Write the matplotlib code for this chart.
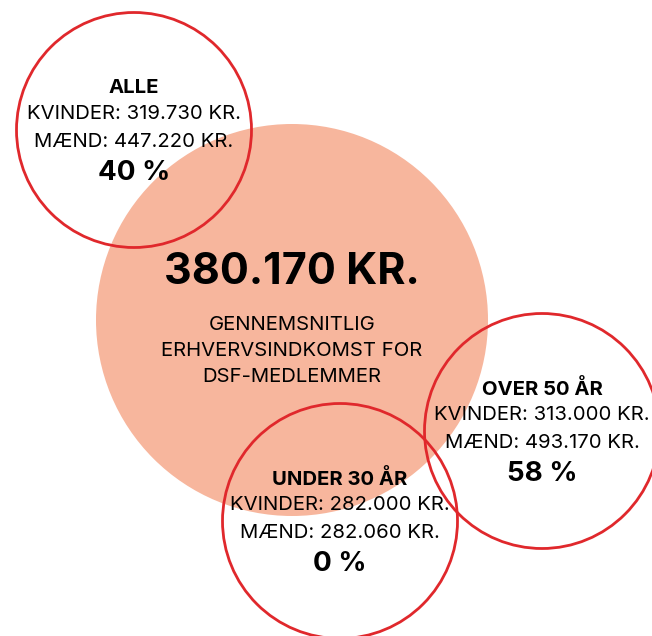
import matplotlib.pyplot as plt
from matplotlib.patches import Circle

# data
groups = ["ALLE", "OVER 50 ÅR", "UNDER 30 ÅR"]
kvinder = ["319.730", "313.000", "282.000"]
maend = ["447.220", "493.170", "282.060"]
gap_pct = [40, 58, 0]
avg_income = "380.170"
avg_label = ["GENNEMSNITLIG", "ERHVERVSINDKOMST FOR", "DSF-MEDLEMMER"]

# layout in pixel coords
centers = [(134, 130), (542, 431), (340, 521)]
radius = 117.5
big_center = (292, 320)
big_radius = 196

plt.rcParams['font.family'] = ['Inter', 'DejaVu Sans']

fig = plt.figure(figsize=(6.52, 6.36), dpi=100)
ax = fig.add_axes([0, 0, 1, 1])
ax.set_xlim(0, 652)
ax.set_ylim(636, 0)
ax.set_aspect('equal')
ax.axis('off')

ax.add_patch(Circle(big_center, big_radius, color='#f7b69d', zorder=1, lw=0))
for c in centers:
    ax.add_patch(Circle(c, radius, fill=False, ec='#e0282c', lw=2, zorder=2))

bx, by = big_center
ax.text(bx, by - 47, avg_income + " KR.", ha='center', va='center',
        fontsize=31, fontweight='bold', zorder=3)
for i, line in enumerate(avg_label):
    ax.text(bx, by + 5 + i * 26, line, ha='center', va='center', fontsize=14.6, zorder=3)

for i in range(len(groups)):
    cx, cy = centers[i]
    ax.text(cx, cy - 42, groups[i], ha='center', va='center', fontsize=14.6,
            fontweight='bold', zorder=3)
    ax.text(cx, cy - 16, "KVINDER: " + kvinder[i] + " KR.", ha='center', va='center',
            fontsize=14.6, zorder=3)
    ax.text(cx, cy + 12, "MÆND: " + maend[i] + " KR.", ha='center', va='center',
            fontsize=14.6, zorder=3)
    ax.text(cx, cy + 43, f"{gap_pct[i]} %", ha='center', va='center', fontsize=20,
            fontweight='bold', zorder=3)

fig.savefig("out.png", dpi=100)
